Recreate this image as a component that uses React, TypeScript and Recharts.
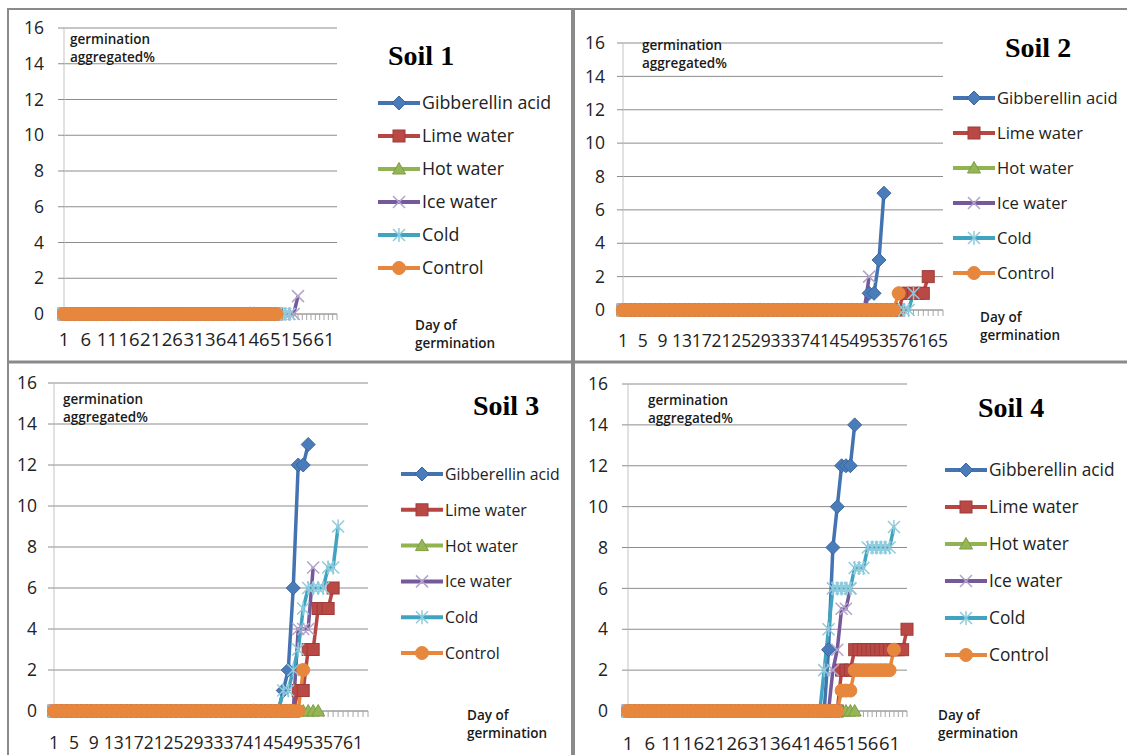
import { CartesianGrid, Line, LineChart, XAxis, YAxis } from "recharts";

const DAYS = [
  1, 2, 3, 4, 5, 6, 7, 8, 9, 10, 11, 12, 13, 14, 15, 16, 17, 18, 19, 20, 21, 22,
  23, 24, 25, 26, 27, 28, 29, 30, 31, 32, 33, 34, 35, 36, 37, 38, 39, 40, 41, 42,
  43, 44, 45, 46, 47, 48, 49, 50, 51, 52, 53, 54, 55, 56, 57, 58, 59, 60, 61, 62,
  63, 64, 65, 66,
];
const Y_TICKS = [0, 2, 4, 6, 8, 10, 12, 14, 16];

// Soil 1
const s1Gibberellin = [
  0, 0, 0, 0, 0, 0, 0, 0, 0, 0,
  0, 0, 0, 0, 0, 0, 0, 0, 0, 0,
  0, 0, 0, 0, 0, 0, 0, 0, 0, 0,
  0, 0, 0, 0, 0, 0, 0, 0, 0, 0,
  0, 0, 0, 0, 0, 0, 0, 0, 0, 0,
];
const s1Lime = [
  0, 0, 0, 0, 0, 0, 0, 0, 0, 0,
  0, 0, 0, 0, 0, 0, 0, 0, 0, 0,
  0, 0, 0, 0, 0, 0, 0, 0, 0, 0,
  0, 0, 0, 0, 0, 0, 0, 0, 0, 0,
  0, 0, 0, 0, 0, 0, 0, 0, 0, 0,
];
const s1Hot = [
  0, 0, 0, 0, 0, 0, 0, 0, 0, 0,
  0, 0, 0, 0, 0, 0, 0, 0, 0, 0,
  0, 0, 0, 0, 0, 0, 0, 0, 0, 0,
  0, 0, 0, 0, 0, 0, 0, 0, 0, 0,
  0, 0, 0, 0, 0, 0, 0, 0, 0, 0,
];
const s1Ice = [
  0, 0, 0, 0, 0, 0, 0, 0, 0, 0,
  0, 0, 0, 0, 0, 0, 0, 0, 0, 0,
  0, 0, 0, 0, 0, 0, 0, 0, 0, 0,
  0, 0, 0, 0, 0, 0, 0, 0, 0, 0,
  0, 0, 0, 0, 0, 0, 0, 0, 0, 0,
  0, 0, 0, 0, 1,
];
const s1Cold = [
  0, 0, 0, 0, 0, 0, 0, 0, 0, 0,
  0, 0, 0, 0, 0, 0, 0, 0, 0, 0,
  0, 0, 0, 0, 0, 0, 0, 0, 0, 0,
  0, 0, 0, 0, 0, 0, 0, 0, 0, 0,
  0, 0, 0, 0, 0, 0, 0, 0, 0, 0,
  0, 0, 0,
];
const s1Control = [
  0, 0, 0, 0, 0, 0, 0, 0, 0, 0,
  0, 0, 0, 0, 0, 0, 0, 0, 0, 0,
  0, 0, 0, 0, 0, 0, 0, 0, 0, 0,
  0, 0, 0, 0, 0, 0, 0, 0, 0, 0,
  0, 0, 0, 0, 0, 0, 0, 0, 0, 0,
];

// Soil 2
const s2Gibberellin = [
  0, 0, 0, 0, 0, 0, 0, 0, 0, 0,
  0, 0, 0, 0, 0, 0, 0, 0, 0, 0,
  0, 0, 0, 0, 0, 0, 0, 0, 0, 0,
  0, 0, 0, 0, 0, 0, 0, 0, 0, 0,
  0, 0, 0, 0, 0, 0, 0, 0, 0, 0,
  1, 1, 3, 7,
];
const s2Lime = [
  0, 0, 0, 0, 0, 0, 0, 0, 0, 0,
  0, 0, 0, 0, 0, 0, 0, 0, 0, 0,
  0, 0, 0, 0, 0, 0, 0, 0, 0, 0,
  0, 0, 0, 0, 0, 0, 0, 0, 0, 0,
  0, 0, 0, 0, 0, 0, 0, 0, 0, 0,
  0, 0, 0, 0, 0, 0, 0, 1, 1, 1, 1, 1, 2,
];
const s2Hot = [
  0, 0, 0, 0, 0, 0, 0, 0, 0, 0,
  0, 0, 0, 0, 0, 0, 0, 0, 0, 0,
  0, 0, 0, 0, 0, 0, 0, 0, 0, 0,
  0, 0, 0, 0, 0, 0, 0, 0, 0, 0,
  0, 0, 0, 0, 0, 0, 0, 0, 0, 0,
  0, 0, 0, 0, 0, 0,
];
const s2Ice = [
  0, 0, 0, 0, 0, 0, 0, 0, 0, 0,
  0, 0, 0, 0, 0, 0, 0, 0, 0, 0,
  0, 0, 0, 0, 0, 0, 0, 0, 0, 0,
  0, 0, 0, 0, 0, 0, 0, 0, 0, 0,
  0, 0, 0, 0, 0, 0, 0, 0, 0, 0,
  2,
];
const s2Cold = [
  0, 0, 0, 0, 0, 0, 0, 0, 0, 0,
  0, 0, 0, 0, 0, 0, 0, 0, 0, 0,
  0, 0, 0, 0, 0, 0, 0, 0, 0, 0,
  0, 0, 0, 0, 0, 0, 0, 0, 0, 0,
  0, 0, 0, 0, 0, 0, 0, 0, 0, 0,
  0, 0, 0, 0, 0, 0, 0, 0, 0, 1,
];
const s2Control = [
  0, 0, 0, 0, 0, 0, 0, 0, 0, 0,
  0, 0, 0, 0, 0, 0, 0, 0, 0, 0,
  0, 0, 0, 0, 0, 0, 0, 0, 0, 0,
  0, 0, 0, 0, 0, 0, 0, 0, 0, 0,
  0, 0, 0, 0, 0, 0, 0, 0, 0, 0,
  0, 0, 0, 0, 0, 0, 1,
];

// Soil 3
const s3Gibberellin = [
  0, 0, 0, 0, 0, 0, 0, 0, 0, 0,
  0, 0, 0, 0, 0, 0, 0, 0, 0, 0,
  0, 0, 0, 0, 0, 0, 0, 0, 0, 0,
  0, 0, 0, 0, 0, 0, 0, 0, 0, 0,
  0, 0, 0, 0, 0, 0, 1, 2, 6, 12, 12, 13,
];
const s3Lime = [
  0, 0, 0, 0, 0, 0, 0, 0, 0, 0,
  0, 0, 0, 0, 0, 0, 0, 0, 0, 0,
  0, 0, 0, 0, 0, 0, 0, 0, 0, 0,
  0, 0, 0, 0, 0, 0, 0, 0, 0, 0,
  0, 0, 0, 0, 0, 0, 0, 0, 0, 1, 1, 3, 3, 5, 5, 5, 6,
];
const s3Hot = [
  0, 0, 0, 0, 0, 0, 0, 0, 0, 0,
  0, 0, 0, 0, 0, 0, 0, 0, 0, 0,
  0, 0, 0, 0, 0, 0, 0, 0, 0, 0,
  0, 0, 0, 0, 0, 0, 0, 0, 0, 0,
  0, 0, 0, 0, 0, 0, 0, 0, 0, 0,
  0, 0, 0, 0,
];
const s3Ice = [
  0, 0, 0, 0, 0, 0, 0, 0, 0, 0,
  0, 0, 0, 0, 0, 0, 0, 0, 0, 0,
  0, 0, 0, 0, 0, 0, 0, 0, 0, 0,
  0, 0, 0, 0, 0, 0, 0, 0, 0, 0,
  0, 0, 0, 0, 0, 0, 0, 0, 0, 4, 4, 4, 7,
];
const s3Cold = [
  0, 0, 0, 0, 0, 0, 0, 0, 0, 0,
  0, 0, 0, 0, 0, 0, 0, 0, 0, 0,
  0, 0, 0, 0, 0, 0, 0, 0, 0, 0,
  0, 0, 0, 0, 0, 0, 0, 0, 0, 0,
  0, 0, 0, 0, 0, 0, 1, 1, 2, 3, 5, 6, 6, 6, 6, 7, 7, 9,
];
const s3Control = [
  0, 0, 0, 0, 0, 0, 0, 0, 0, 0,
  0, 0, 0, 0, 0, 0, 0, 0, 0, 0,
  0, 0, 0, 0, 0, 0, 0, 0, 0, 0,
  0, 0, 0, 0, 0, 0, 0, 0, 0, 0,
  0, 0, 0, 0, 0, 0, 0, 0, 0, 0,
  2,
];

// Soil 4
const s4Gibberellin = [
  0, 0, 0, 0, 0, 0, 0, 0, 0, 0,
  0, 0, 0, 0, 0, 0, 0, 0, 0, 0,
  0, 0, 0, 0, 0, 0, 0, 0, 0, 0,
  0, 0, 0, 0, 0, 0, 0, 0, 0, 0,
  0, 0, 0, 0, 0, 0, 3, 8, 10, 12, 12, 12, 14,
];
const s4Lime = [
  0, 0, 0, 0, 0, 0, 0, 0, 0, 0,
  0, 0, 0, 0, 0, 0, 0, 0, 0, 0,
  0, 0, 0, 0, 0, 0, 0, 0, 0, 0,
  0, 0, 0, 0, 0, 0, 0, 0, 0, 0,
  0, 0, 0, 0, 0, 0, 0, 0, 0, 2, 2, 2,
  3, 3, 3, 3, 3, 3, 3, 3, 3, 3, 3, 3, 4,
];
const s4Hot = [
  0, 0, 0, 0, 0, 0, 0, 0, 0, 0,
  0, 0, 0, 0, 0, 0, 0, 0, 0, 0,
  0, 0, 0, 0, 0, 0, 0, 0, 0, 0,
  0, 0, 0, 0, 0, 0, 0, 0, 0, 0,
  0, 0, 0, 0, 0, 0, 0, 0, 0, 0,
  0, 0, 0,
];
const s4Ice = [
  0, 0, 0, 0, 0, 0, 0, 0, 0, 0,
  0, 0, 0, 0, 0, 0, 0, 0, 0, 0,
  0, 0, 0, 0, 0, 0, 0, 0, 0, 0,
  0, 0, 0, 0, 0, 0, 0, 0, 0, 0,
  0, 0, 0, 0, 0, 0, 0, 2, 3, 5, 5, 6,
];
const s4Cold = [
  0, 0, 0, 0, 0, 0, 0, 0, 0, 0,
  0, 0, 0, 0, 0, 0, 0, 0, 0, 0,
  0, 0, 0, 0, 0, 0, 0, 0, 0, 0,
  0, 0, 0, 0, 0, 0, 0, 0, 0, 0,
  0, 0, 0, 0, 0, 2, 4, 6, 6, 6, 6, 6, 7, 7, 7,
  8, 8, 8, 8, 8, 8, 9,
];
const s4Control = [
  0, 0, 0, 0, 0, 0, 0, 0, 0, 0,
  0, 0, 0, 0, 0, 0, 0, 0, 0, 0,
  0, 0, 0, 0, 0, 0, 0, 0, 0, 0,
  0, 0, 0, 0, 0, 0, 0, 0, 0, 0,
  0, 0, 0, 0, 0, 0, 0, 0, 0, 1, 1, 1,
  2, 2, 2, 2, 2, 2, 2, 2, 2, 3,
];

const SERIES = [
  { key: "ga", name: "Gibberellin acid", color: "#4473B2", fill: "#4A7CBA", edge: "#3A669E", shape: "diamond" },
  { key: "lime", name: "Lime water", color: "#B74643", fill: "#BA4946", edge: "#9E3C39", shape: "square" },
  { key: "hot", name: "Hot water", color: "#92B352", fill: "#95B655", edge: "#7F9C45", shape: "triangle" },
  { key: "ice", name: "Ice water", color: "#76599B", fill: "none", edge: "#B3A4CB", shape: "x" },
  { key: "cold", name: "Cold", color: "#40A4C0", fill: "none", edge: "#8ECBDC", shape: "star" },
  { key: "control", name: "Control", color: "#E6873D", fill: "#E6873D", edge: "#E6873D", shape: "circle" },
];

const PANELS = [
  {
    title: "Soil 1", dayCount: 64, step: 5, x0: 64, x1: 337, yT: 28, yB: 314, xGap: 13, yGap: 14, xFont: 18.5, legendFont: 17.8,
    values: { ga: s1Gibberellin, lime: s1Lime, hot: s1Hot, ice: s1Ice, cold: s1Cold, control: s1Control },
    titleAt: [388, 65], noteAt: [70, 44], dayAt: [415, 330], legend: { x: 378, y: 103, gap: 33 },
  },
  {
    title: "Soil 2", dayCount: 66, step: 4, x0: 623, x1: 943, yT: 43, yB: 310, xGap: 19, yGap: 12, xFont: 17.5, legendFont: 16.6,
    values: { ga: s2Gibberellin, lime: s2Lime, hot: s2Hot, ice: s2Ice, cold: s2Cold, control: s2Control },
    titleAt: [1005, 57], noteAt: [642, 50], dayAt: [980, 322], legend: { x: 953, y: 98, gap: 35 },
  },
  {
    title: "Soil 3", dayCount: 64, step: 4, x0: 54, x1: 368, yT: 383, yB: 711, xGap: 20, yGap: 11, xFont: 17.5, legendFont: 15.8,
    values: { ga: s3Gibberellin, lime: s3Lime, hot: s3Hot, ice: s3Ice, cold: s3Cold, control: s3Control },
    titleAt: [473, 415], noteAt: [63, 404], dayAt: [467, 720], legend: { x: 401, y: 474, gap: 35.8 },
  },
  {
    title: "Soil 4", dayCount: 65, step: 5, x0: 628, x1: 907, yT: 384, yB: 711, xGap: 20, yGap: 14, xFont: 18.5, legendFont: 17.3,
    values: { ga: s4Gibberellin, lime: s4Lime, hot: s4Hot, ice: s4Ice, cold: s4Cold, control: s4Control },
    titleAt: [978, 417], noteAt: [648, 405], dayAt: [938, 720], legend: { x: 945, y: 470, gap: 37 },
  },
];

const FONT = "'Open Sans', sans-serif";
const PAD_TOP = 20;
const PAD_RIGHT = 24;

function buildRows(days: number[], cols: Record<string, number[]>) {
  return days.map((day, i) => {
    const row: Record<string, number | null> = { day };
    for (const k of Object.keys(cols)) row[k] = i < cols[k].length ? cols[k][i] : null;
    return row;
  });
}

function Marker({ s, x, y }: { s: (typeof SERIES)[number]; x: number; y: number }) {
  switch (s.shape) {
    case "diamond":
      return <polygon points={`${x},${y - 7} ${x + 7},${y} ${x},${y + 7} ${x - 7},${y}`} fill={s.fill} stroke={s.edge} strokeWidth={1} />;
    case "square":
      return <rect x={x - 6} y={y - 6} width={12} height={12} fill={s.fill} stroke={s.edge} strokeWidth={1} />;
    case "triangle":
      return <polygon points={`${x},${y - 6.5} ${x + 6.5},${y + 5} ${x - 6.5},${y + 5}`} fill={s.fill} stroke={s.edge} strokeWidth={1} />;
    case "x":
      return <path d={`M${x - 6},${y - 6}L${x + 6},${y + 6}M${x - 6},${y + 6}L${x + 6},${y - 6}`} stroke={s.edge} strokeWidth={1.5} fill="none" />;
    case "star":
      return <path d={`M${x - 6},${y - 6}L${x + 6},${y + 6}M${x - 6},${y + 6}L${x + 6},${y - 6}M${x},${y - 7}L${x},${y + 7}`} stroke={s.edge} strokeWidth={1.5} fill="none" />;
    default:
      return <circle cx={x} cy={y} r={6.5} fill={s.fill} stroke={s.edge} strokeWidth={1} />;
  }
}

function makeDot(s: (typeof SERIES)[number]) {
  return (props: any) => {
    const { cx, cy, index, value } = props;
    const k = `${s.key}-${index}`;
    if (value == null || cx == null || cy == null || Number.isNaN(cx) || Number.isNaN(cy)) return <g key={k} />;
    return (
      <g key={k}>
        <Marker s={s} x={cx} y={cy} />
      </g>
    );
  };
}

function SoilChart({ p }: { p: (typeof PANELS)[number] }) {
  const data = buildRows(DAYS.slice(0, p.dayCount), p.values);
  const width = p.x1 - p.x0 + 60 + PAD_RIGHT;
  const height = p.yB - p.yT + PAD_TOP + 45;
  return (
    <div style={{ position: "absolute", left: p.x0 - 60, top: p.yT - PAD_TOP }}>
      <LineChart width={width} height={height} data={data} margin={{ top: PAD_TOP, right: PAD_RIGHT, bottom: 0, left: 0 }}>
        <CartesianGrid vertical={false} stroke="#8c8c8c" />
        <XAxis
          dataKey="day"
          interval={0}
          height={45}
          tickSize={6}
          tickMargin={p.xGap}
          axisLine={{ stroke: "#a6a6a6" }}
          tickLine={{ stroke: "#a6a6a6" }}
          tick={(t: any) =>
            t.index % p.step === 0 ? (
              <text x={t.x} y={t.y} dy="0.71em" textAnchor="middle" fontSize={p.xFont} fill="#222" fontFamily={FONT}>
                {t.payload.value}
              </text>
            ) : (
              <g />
            )
          }
        />
        <YAxis
          domain={[0, 16]}
          ticks={Y_TICKS}
          interval={0}
          width={60}
          tickSize={6}
          tickMargin={p.yGap}
          axisLine={{ stroke: "#c4c4c4" }}
          tickLine={{ stroke: "#8c8c8c" }}
          tick={{ fontSize: 17.5, fill: "#222", fontFamily: FONT }}
        />
        {SERIES.map((s) => (
          <Line
            key={s.key}
            type="linear"
            dataKey={s.key}
            name={s.name}
            stroke={s.color}
            strokeWidth={3.5}
            dot={makeDot(s)}
            activeDot={false}
            isAnimationActive={false}
          />
        ))}
      </LineChart>
    </div>
  );
}

function Texts({ p }: { p: (typeof PANELS)[number] }) {
  const lg = p.legend;
  return (
    <g>
      <text x={p.titleAt[0]} y={p.titleAt[1]} fontFamily="'Liberation Serif', serif" fontWeight="bold" fontSize={28} fill="#000">
        {p.title}
      </text>
      <text x={p.noteAt[0]} y={p.noteAt[1]} fontFamily={FONT} fontWeight={600} fontSize={13.5} fill="#1a1a1a">
        germination
      </text>
      <text x={p.noteAt[0]} y={p.noteAt[1] + 18} fontFamily={FONT} fontWeight={600} fontSize={13.5} fill="#1a1a1a">
        aggregated%
      </text>
      <text x={p.dayAt[0]} y={p.dayAt[1]} fontFamily={FONT} fontWeight={600} fontSize={13.5} fill="#1a1a1a">
        Day of
      </text>
      <text x={p.dayAt[0]} y={p.dayAt[1] + 18} fontFamily={FONT} fontWeight={600} fontSize={13.5} fill="#1a1a1a">
        germination
      </text>
      {SERIES.map((s, i) => {
        const y = lg.y + i * lg.gap;
        return (
          <g key={s.key}>
            <line x1={lg.x} x2={lg.x + 42} y1={y} y2={y} stroke={s.color} strokeWidth={4} />
            <Marker s={s} x={lg.x + 21} y={y} />
            <text x={lg.x + 44} y={y + 6} fontFamily={FONT} fontSize={p.legendFont} fill="#222">
              {s.name}
            </text>
          </g>
        );
      })}
    </g>
  );
}

export default function App() {
  return (
    <div style={{ position: "relative", width: 1127, height: 755, background: "#fff", overflow: "hidden", fontFamily: FONT }}>
      <style>{"body{margin:0;}"}</style>
      <svg width={1127} height={755} style={{ position: "absolute", left: 0, top: 0 }}>
        <line x1={8} x2={8} y1={8} y2={755} stroke="#8a8a8a" strokeWidth={2} />
        <line x1={8} x2={1127} y1={9} y2={9} stroke="#8a8a8a" strokeWidth={2} />
        <line x1={573} x2={573} y1={8} y2={755} stroke="#8a8a8a" strokeWidth={4} />
        <line x1={8} x2={1127} y1={362} y2={362} stroke="#8a8a8a" strokeWidth={3} />
      </svg>
      {PANELS.map((p) => (
        <SoilChart key={p.title} p={p} />
      ))}
      <svg width={1127} height={755} style={{ position: "absolute", left: 0, top: 0, pointerEvents: "none" }}>
        {PANELS.map((p) => (
          <Texts key={p.title} p={p} />
        ))}
      </svg>
    </div>
  );
}
